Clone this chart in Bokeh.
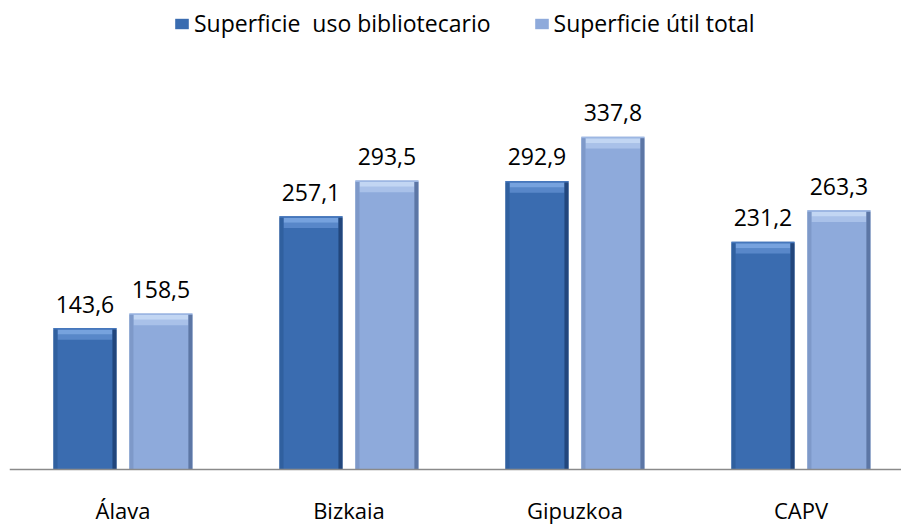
from bokeh.plotting import figure
from bokeh.models import Range1d, Span, Legend, LegendItem, ColumnDataSource
from bokeh.transform import dodge
from bokeh.core.properties import value
from bokeh.embed import file_html
from bokeh.resources import INLINE

# ---- data ----
categories = ["Álava", "Bizkaia", "Gipuzkoa", "CAPV"]
uso_bibliotecario = [143.6, 257.1, 292.9, 231.2]
util_total = [158.5, 293.5, 337.8, 263.3]
series_names = ["Superficie  uso bibliotecario", "Superficie útil total"]


def fmt(v):
    return f"{v:.1f}".replace(".", ",")


xs = [i + 0.5 for i in range(len(categories))]
FONT = value("Open Sans")

src = ColumnDataSource(dict(
    x=xs,
    cat=categories,
    a=uso_bibliotecario,
    b=util_total,
    a_lbl=[fmt(v) for v in uso_bibliotecario],
    b_lbl=[fmt(v) for v in util_total],
    a_t1=[v - 1.5 for v in uso_bibliotecario],
    a_t2=[v - 6.5 for v in uso_bibliotecario],
    a_t3=[v - 12 for v in uso_bibliotecario],
    b_t1=[v - 1.5 for v in util_total],
    b_t2=[v - 6.5 for v in util_total],
    b_t3=[v - 12 for v in util_total],
    zero=[0] * len(categories),
))

W, H = 901, 526
BASE = 469          # pixel row of the zero line
PXU = 0.985         # pixels per data unit
LEFT = 9

p = figure(
    width=W, height=H,
    x_range=Range1d(-0.002, -0.002 + (W - LEFT) / 226),
    y_range=Range1d(-(H - BASE) / PXU, BASE / PXU),
    x_axis_type=None, y_axis_type=None,
    output_backend="svg", toolbar_location=None,
    min_border=0, min_border_left=LEFT, min_border_right=0,
    min_border_top=0, min_border_bottom=0,
)
p.outline_line_color = None
p.grid.visible = False
p.background_fill_color = "white"
p.border_fill_color = "white"

BW = 0.279
OFF = 0.168
EDGE = 0.018

styles = {
    "a": dict(off=-OFF, main="#3A6CB0", top="#4677BC", band1="#76A2DE", band2="#5887C9",
              left="#30609F", right="#22467C"),
    "b": dict(off=OFF, main="#8EAADB", top="#9DB7E3", band1="#C2D6F3", band2="#A9C1E9",
              left="#7E99C9", right="#5C76A5"),
}

mains = {}
for key, st in styles.items():
    xo = dodge("x", st["off"], range=p.x_range)
    mains[key] = p.vbar(x=xo, top=key, bottom="zero", width=BW, source=src,
                        fill_color=st["main"], line_color=None)
    # bevel: top bands
    p.vbar(x=xo, top=f"{key}_t2", bottom=f"{key}_t3", width=BW - 2 * EDGE, source=src,
           fill_color=st["band2"], line_color=None)
    p.vbar(x=xo, top=f"{key}_t1", bottom=f"{key}_t2", width=BW - 2 * EDGE, source=src,
           fill_color=st["band1"], line_color=None)
    p.vbar(x=xo, top=key, bottom=f"{key}_t1", width=BW, source=src,
           fill_color=st["top"], line_color=None)
    # side edges
    p.vbar(x=dodge("x", st["off"] - BW / 2 + EDGE / 2, range=p.x_range), top=f"{key}_t1",
           bottom="zero", width=EDGE, source=src, fill_color=st["left"], line_color=None)
    p.vbar(x=dodge("x", st["off"] + BW / 2 - EDGE / 2, range=p.x_range), top=f"{key}_t1",
           bottom="zero", width=EDGE, source=src, fill_color=st["right"], line_color=None)
    # value labels
    p.text(x=xo, y=key, text=f"{key}_lbl", source=src, text_align="center",
           text_baseline="alphabetic", y_offset=-24, text_font=FONT,
           text_font_size="23px", text_color="#000000")

# category labels
p.text(x="x", y="zero", text="cat", source=src, text_align="center",
       text_baseline="alphabetic", y_offset=40, text_font=FONT,
       text_font_size="22px", text_color="#000000")

# baseline axis
p.add_layout(Span(location=0, dimension="width", line_color="#8A8A8A", line_width=1.5))

legend = Legend(
    items=[LegendItem(label=series_names[0], renderers=[mains["a"]]),
           LegendItem(label=series_names[1], renderers=[mains["b"]])],
    orientation="horizontal", location=(164, 487),
    glyph_width=17, glyph_height=13, label_standoff=4, spacing=42,
    padding=0, margin=0, border_line_color=None, background_fill_alpha=0,
    label_text_font="Open Sans", label_text_font_size="23px", label_text_color="#000000",
)
p.add_layout(legend, "center")

open("out.html", "w").write(file_html(p, INLINE))
